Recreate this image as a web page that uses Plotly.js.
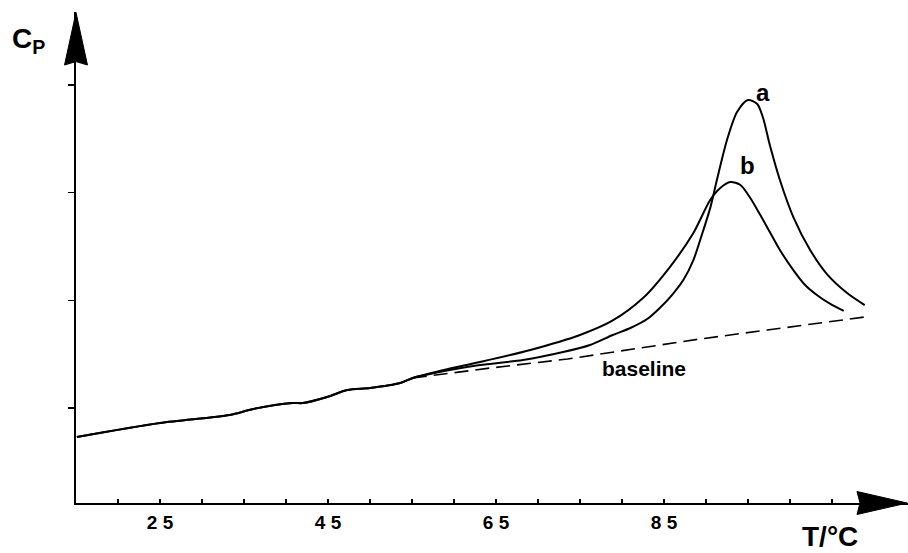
<!DOCTYPE html>
<html>
<head>
<meta charset="utf-8">
<script src="https://cdn.plot.ly/plotly-3.0.1.min.js"></script>
<style>
html,body{margin:0;padding:0;background:#fff;}
#chart{width:908px;height:553px;}
</style>
</head>
<body>
<div id="chart"></div>
<script>
// Shared low-temperature part (all curves coincide)
const T_common  = [15.1, 25.0, 33.3, 36.1, 40.8, 42.0, 44.9, 47.3, 50.0, 53.6, 55.1];
const cp_common = [0.731, 0.861, 0.935, 0.991, 1.046, 1.046, 1.102, 1.167, 1.186, 1.232, 1.279];

// Curve a (sharper, higher peak)
const T_a  = [59.5, 63.1, 68.2, 73.0, 76.2, 78.9, 81.0, 83.0, 84.5, 85.95, 87.3, 88.5, 89.5, 90.5, 91.3, 92.5, 93.7, 95.0, 96.1, 96.8, 97.6, 98.8, 100.4, 102.4, 104.4, 106.8, 108.9];
const cp_a = [1.353, 1.399, 1.446, 1.520, 1.585, 1.678, 1.743, 1.826, 1.929, 2.049, 2.188, 2.374, 2.606, 2.856, 3.117, 3.488, 3.748, 3.860, 3.823, 3.693, 3.442, 3.117, 2.773, 2.467, 2.244, 2.068, 1.956];

// Curve b (broader, lower peak)
const T_b  = [59.3, 63.1, 69.1, 75.0, 78.8, 82.5, 85.7, 88.5, 90.5, 91.7, 92.9, 94.1, 95.2, 96.4, 97.6, 98.8, 100.4, 101.8, 103.2, 104.8, 106.4];
const cp_b = [1.362, 1.427, 1.539, 1.678, 1.808, 2.021, 2.309, 2.625, 2.931, 3.043, 3.098, 3.071, 2.959, 2.801, 2.634, 2.467, 2.281, 2.142, 2.049, 1.966, 1.901];

// Baseline (dashed)
const T_base  = [55.1, 64.3, 73.5, 78.9, 89.3, 97.3, 105.1, 108.9];
const cp_base = [1.279, 1.371, 1.455, 1.520, 1.641, 1.724, 1.808, 1.845];

// Axis ticks
const xTickVals = [25, 45, 65, 85];
const xTickText = ['2 5', '4 5', '6 5', '8 5'];
const yTickVals = [1, 2, 3, 4];

const lineStyle = {color: '#000', width: 2};
const traces = [
  {x: T_common.concat(T_a), y: cp_common.concat(cp_a), mode: 'lines',
   line: Object.assign({shape: 'spline', smoothing: 0.8}, lineStyle), hoverinfo: 'skip'},
  {x: T_common.concat(T_b), y: cp_common.concat(cp_b), mode: 'lines',
   line: Object.assign({shape: 'spline', smoothing: 0.8}, lineStyle), hoverinfo: 'skip'},
  {x: T_base, y: cp_base, mode: 'lines',
   line: {color: '#000', width: 1.6, dash: '14px,7px'}, hoverinfo: 'skip'}
];

const heavy = 'Liberation Sans, Arial, sans-serif';

const layout = {
  width: 908, height: 553,
  margin: {l: 76, r: 0, t: 12, b: 50},
  paper_bgcolor: '#fff', plot_bgcolor: '#fff',
  showlegend: false,
  xaxis: {
    range: [15, 114.05], showgrid: false, zeroline: false,
    showline: true, linecolor: '#000', linewidth: 2,
    tickmode: 'array', tickvals: xTickVals, ticktext: xTickText,
    ticks: 'inside', ticklen: 4, tickwidth: 1.5, tickcolor: '#000',
    tickfont: {family: heavy, size: 19, color: '#000', weight: 'bold'},
    ticklabelstandoff: 1,
    minor: {tickmode: 'linear', tick0: 20, dtick: 5, ticks: 'inside', ticklen: 4,
            tickwidth: 1.5, tickcolor: '#000', showgrid: false}
  },
  yaxis: {
    range: [0.118, 4.677], showgrid: false, zeroline: false,
    showline: true, linecolor: '#000', linewidth: 2,
    tickmode: 'array', tickvals: yTickVals, showticklabels: false,
    ticks: 'outside', ticklen: 6, tickwidth: 1.5, tickcolor: '#000'
  },
  shapes: [
    // x-axis arrowhead
    {type: 'path', xref: 'paper', yref: 'paper', layer: 'above',
     path: 'M 0.9387 0.0234 L 0.9990 0 L 0.9387 -0.0234 L 0.9423 0 Z',
     fillcolor: '#000', line: {color: '#000', width: 1}},
    // y-axis arrowhead
    {type: 'path', xref: 'paper', yref: 'paper', layer: 'above',
     path: 'M -0.0138 0.892 L 0 0.999 L 0.0138 0.892 L 0 0.899 Z',
     fillcolor: '#000', line: {color: '#000', width: 1}}
  ],
  annotations: [
    {text: 'a', x: 96.8, y: 3.925, xref: 'x', yref: 'y', showarrow: false,
     xanchor: 'center', yanchor: 'middle',
     font: {family: heavy, size: 24, color: '#000', weight: 'bold'}},
    {text: 'b', x: 94.9, y: 3.256, xref: 'x', yref: 'y', showarrow: false,
     xanchor: 'center', yanchor: 'middle',
     font: {family: heavy, size: 24, color: '#000', weight: 'bold'}},
    {text: 'baseline', x: 82.6, y: 1.371, xref: 'x', yref: 'y', showarrow: false,
     xanchor: 'center', yanchor: 'middle',
     font: {family: heavy, size: 21, color: '#000', weight: 'bold'}},
    {text: 'T/°C', x: (830 - 76) / 832, y: (503 - 536) / 491, xref: 'paper', yref: 'paper',
     xanchor: 'center', yanchor: 'middle',
     showarrow: false, font: {family: heavy, size: 28, color: '#000', weight: 'bold'}},
    {text: 'C<sub>P</sub>', x: (10 - 76) / 832, y: (503 - 40) / 491, xref: 'paper', yref: 'paper',
     xanchor: 'left', yanchor: 'middle', showarrow: false,
     font: {family: heavy, size: 28, color: '#000', weight: 'bold'}}
  ]
};

Plotly.newPlot('chart', traces, layout, {staticPlot: true, displayModeBar: false});
</script>
</body>
</html>
